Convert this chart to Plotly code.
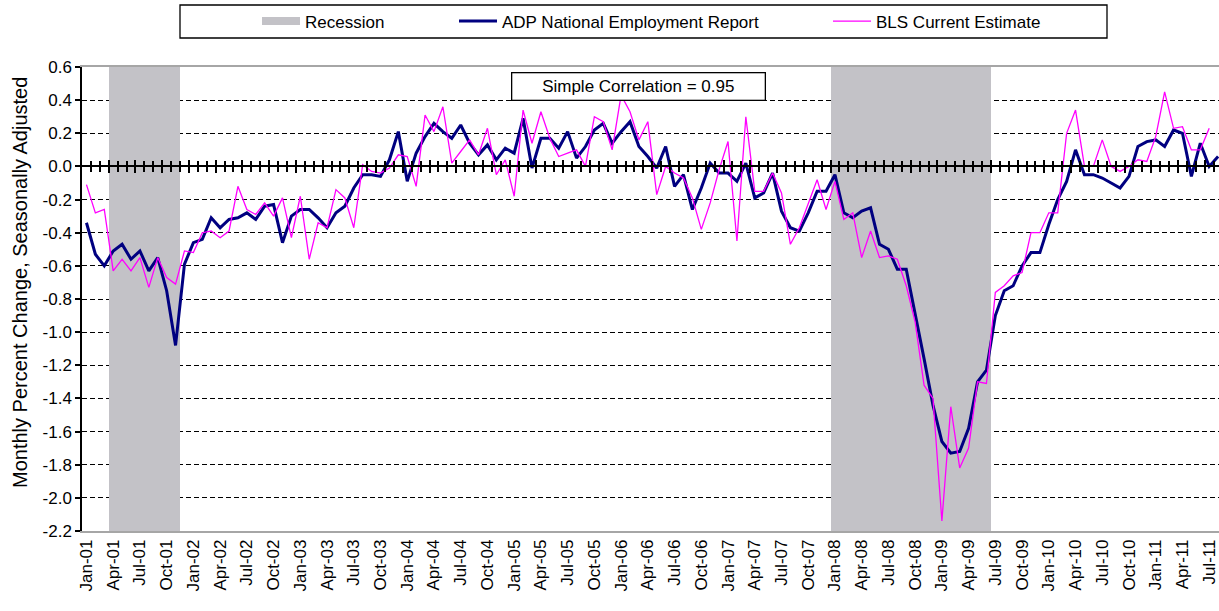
import pandas as pd
import plotly.graph_objects as go

# ---------------- data ----------------
months = pd.date_range("2001-01-01", periods=128, freq="MS").strftime("%b-%y").tolist()

adp = [-0.34, -0.53, -0.60, -0.51, -0.47, -0.56, -0.51, -0.63, -0.55, -0.75, -1.08, -0.59,
       -0.46, -0.44, -0.31, -0.37, -0.32, -0.31, -0.28, -0.32, -0.24, -0.23, -0.46, -0.30,
       -0.26, -0.26, -0.31, -0.37, -0.28, -0.24, -0.13, -0.05, -0.05, -0.06, 0.04, 0.21,
       -0.09, 0.08, 0.18, 0.26, 0.21, 0.17, 0.25, 0.14, 0.07, 0.13, 0.04, 0.11,
       0.08, 0.29, -0.01, 0.17, 0.17, 0.11, 0.21, 0.05, 0.12, 0.22, 0.26, 0.14,
       0.21, 0.27, 0.12, 0.06, -0.01, 0.12, -0.12, -0.05, -0.26, -0.13, 0.02, -0.04,
       -0.04, -0.09, 0.02, -0.19, -0.16, -0.04, -0.27, -0.37, -0.39, -0.28, -0.15, -0.15,
       -0.05, -0.28, -0.31, -0.27, -0.25, -0.47, -0.50, -0.62, -0.62, -0.88, -1.16, -1.44,
       -1.66, -1.73, -1.72, -1.58, -1.30, -1.23, -0.90, -0.75, -0.72, -0.60, -0.52, -0.52,
       -0.35, -0.20, -0.09, 0.10, -0.05, -0.05, -0.07, -0.10, -0.13, -0.06, 0.12, 0.15,
       0.16, 0.12, 0.22, 0.20, -0.06, 0.14, 0.00, 0.06]

bls = [-0.11, -0.28, -0.26, -0.63, -0.56, -0.63, -0.55, -0.73, -0.55, -0.67, -0.71, -0.51,
       -0.52, -0.40, -0.39, -0.43, -0.39, -0.12, -0.26, -0.29, -0.22, -0.30, -0.19, -0.43,
       -0.18, -0.56, -0.34, -0.37, -0.14, -0.19, -0.37, 0.01, -0.03, -0.04, -0.01, 0.07,
       0.06, -0.12, 0.31, 0.21, 0.36, 0.02, 0.09, 0.16, 0.07, 0.23, -0.05, 0.04,
       -0.18, 0.34, 0.14, 0.33, 0.17, 0.06, 0.08, 0.10, 0.00, 0.30, 0.27, 0.10,
       0.43, 0.33, 0.16, 0.27, -0.17, 0.00, -0.04, -0.07, -0.19, -0.38, -0.22, -0.02,
       0.15, -0.45, 0.30, -0.15, -0.15, -0.04, -0.16, -0.47, -0.37, -0.22, -0.08, -0.26,
       -0.09, -0.32, -0.28, -0.55, -0.39, -0.55, -0.54, -0.56, -0.72, -0.94, -1.32, -1.40,
       -2.14, -1.45, -1.82, -1.70, -1.30, -1.31, -0.76, -0.72, -0.66, -0.64, -0.40, -0.40,
       -0.28, -0.28, 0.20, 0.34, 0.00, 0.00, 0.16, 0.00, -0.03, 0.00, 0.04, 0.03,
       0.18, 0.45, 0.23, 0.24, 0.10, 0.10, 0.23]

recessions = [("Apr-01", "Nov-01"), ("Jan-08", "Jun-09")]

y_ticks = [-2.2, -2.0, -1.8, -1.6, -1.4, -1.2, -1.0, -0.8, -0.6, -0.4, -0.2, 0.0, 0.2, 0.4, 0.6]
y_min, y_max = -2.2, 0.6
correlation_label = "Simple Correlation = 0.95"
y_title = "Monthly Percent Change, Seasonally Adjusted"

# ---------------- derived ----------------
idx = list(range(len(months)))
rec_idx = []
for a, b in recessions:
    rec_idx += list(range(months.index(a), months.index(b) + 1))

tick_idx = idx[::3]
tick_txt = months[::3]
boundaries = [i + 0.5 for i in idx]
major_bounds = [b for b in boundaries if round(b + 0.5) % 3 == 0]

FONT = "Liberation Sans, Arial, sans-serif"
W, H = 1219, 611
ML, MR, MT, MB = 82, 0, 67, 80
PW, PH = W - ML - MR, H - MT - MB


def px(xp):
    return (xp - ML) / PW


def py(yp):
    return (H - MB - yp) / PH


xrange_ = [-0.5, 127.1]
zero_pos = (0 - y_min) / (y_max - y_min)
REC_COLOR = "#c3c2c7"

fig = go.Figure()

fig.add_trace(go.Bar(
    x=rec_idx, y=[y_max - y_min] * len(rec_idx), base=y_min, width=1.0,
    marker=dict(color=REC_COLOR, line=dict(width=0)),
    name="Recession", legendgroup="rec", showlegend=False, hoverinfo="skip",
))
# legend entry for recession (wide gray block)
fig.add_trace(go.Scatter(
    x=[None], y=[None], mode="lines", name="Recession", legendgroup="rec",
    line=dict(color=REC_COLOR, width=8), legend="legend", hoverinfo="skip",
))
fig.add_trace(go.Scatter(
    x=idx[:len(adp)], y=adp, mode="lines", name="ADP National Employment Report",
    line=dict(color="#000080", width=3), legend="legend2",
))
fig.add_trace(go.Scatter(
    x=idx[:len(bls)], y=bls, mode="lines", name="BLS Current Estimate",
    line=dict(color="#ff00ff", width=1.3), legend="legend3",
))
# helper traces so the zero-line axes are drawn
for ax in ("x2", "x3"):
    fig.add_trace(go.Scatter(x=[None], y=[None], xaxis=ax, yaxis="y",
                             showlegend=False, hoverinfo="skip"))

leg_common = dict(orientation="h", yanchor="middle", xanchor="left",
                  bgcolor="rgba(0,0,0,0)", borderwidth=0, itemwidth=38,
                  font=dict(family=FONT, size=17, color="black"))

fig.update_layout(
    width=W, height=H,
    margin=dict(l=ML, r=MR, t=MT, b=MB, autoexpand=False),
    paper_bgcolor="white", plot_bgcolor="white",
    bargap=0,
    font=dict(family=FONT, color="black"),
    legend=dict(x=px(257), y=py(21.5), **leg_common),
    legend2=dict(x=px(454), y=py(21.5), **leg_common),
    legend3=dict(x=px(828), y=py(21.5), **leg_common),
    xaxis=dict(
        range=xrange_, tickmode="array", tickvals=tick_idx, ticktext=tick_txt,
        tickangle=-90, ticks="", showgrid=False, zeroline=False,
        showline=True, linecolor="#a6a6a6", linewidth=1.5, mirror=True,
        tickfont=dict(family=FONT, size=17, color="black"),
    ),
    xaxis2=dict(
        overlaying="x", anchor="free", position=zero_pos, range=xrange_,
        showline=True, linecolor="black", linewidth=2, showgrid=False, zeroline=False,
        showticklabels=False, tickmode="array", tickvals=major_bounds,
        ticks="outside", ticklen=6, tickwidth=1.5, tickcolor="black",
        minor=dict(tickmode="array", tickvals=boundaries, ticks="outside",
                   ticklen=5, tickwidth=1.5, tickcolor="black"),
        layer="above traces",
    ),
    xaxis3=dict(
        overlaying="x", anchor="free", position=zero_pos, range=xrange_,
        showline=False, showgrid=False, zeroline=False,
        showticklabels=False, tickmode="array", tickvals=major_bounds,
        ticks="inside", ticklen=6, tickwidth=1.5, tickcolor="black",
        minor=dict(tickmode="array", tickvals=boundaries, ticks="inside",
                   ticklen=5, tickwidth=1.5, tickcolor="black"),
        layer="above traces",
    ),
    yaxis=dict(
        range=[y_min, y_max], tickmode="array", tickvals=y_ticks,
        ticktext=[f"{v:.1f}" for v in y_ticks],
        showgrid=True, gridcolor="black", gridwidth=1, griddash="5px,3px",
        zeroline=False, showline=True, linecolor="black", linewidth=1.5,
        ticks="outside", ticklen=5, tickwidth=1.5, tickcolor="black",
        tickfont=dict(family=FONT, size=17, color="black"),
    ),
    shapes=[dict(type="rect", xref="paper", yref="paper",
                 x0=px(180), x1=px(1107), y0=py(38), y1=py(5),
                 line=dict(color="black", width=1.3), fillcolor="rgba(0,0,0,0)")],
    annotations=[
        dict(text=correlation_label, xref="paper", yref="paper",
             x=px(638.5), y=py(86), xanchor="center", yanchor="middle",
             showarrow=False, width=250, height=24, align="center",
             bgcolor="white", bordercolor="black", borderwidth=1.3, borderpad=1,
             font=dict(family=FONT, size=17, color="black")),
        dict(text=y_title, xref="paper", yref="paper",
             x=px(20), y=py(283), xanchor="center", yanchor="middle",
             textangle=-90, showarrow=False,
             font=dict(family=FONT, size=20, color="black")),
    ],
)

fig.write_html("out.html",
               config={"displayModeBar": False},
               post_script="document.body.style.margin='0px';document.body.style.overflow='hidden';")
